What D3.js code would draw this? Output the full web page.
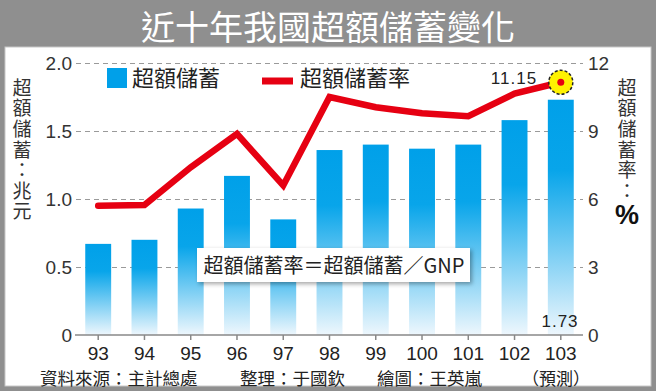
<!DOCTYPE html>
<html>
<head>
<meta charset="utf-8">
<script src="https://cdn.jsdelivr.net/npm/d3@7/dist/d3.min.js"></script>
<style>
  html, body { margin: 0; padding: 0; background: #fff; }
  svg { display: block; }
</style>
</head>
<body>
<svg id="chart" width="656" height="391"></svg>
<script>
// ---- data ----
const years = ["93", "94", "95", "96", "97", "98", "99", "100", "101", "102", "103"];
const savings = [0.67, 0.70, 0.93, 1.17, 0.85, 1.36, 1.40, 1.37, 1.40, 1.58, 1.73];   // 兆元
const rate = [5.70, 5.73, 7.40, 8.87, 6.60, 10.50, 10.05, 9.78, 9.65, 10.65, 11.15];  // %
const leftTicks = [0, 0.5, 1.0, 1.5, 2.0];
const rightTicks = [0, 3, 6, 9, 12];
const title = "近十年我國超額儲蓄變化";
const leftLabel = "超額儲蓄：兆元";
const rightLabel = "超額儲蓄率：";
const legendNames = ["超額儲蓄", "超額儲蓄率"];
const formula = "超額儲蓄率＝超額儲蓄／GNP";
const footer = ["資料來源：主計總處", "整理：于國欽", "繪圖：王英嵐"];

const CJK = "'Noto Sans CJK TC', 'Noto Sans CJK SC', sans-serif";
const NUM = "'Liberation Sans', Arial, sans-serif";
const BLUE = "#00a0e9", RED = "#e60012";

const svg = d3.select("#chart");

// frame
svg.append("rect").attr("x", 0).attr("y", 0).attr("width", 656).attr("height", 391).attr("fill", "#8f8f8f");
svg.append("rect").attr("x", 5).attr("y", 47).attr("width", 646).attr("height", 339)
  .attr("fill", "#fff").attr("stroke", "#c8c8c8").attr("stroke-width", 1);

svg.append("text").attr("x", 328).attr("y", 40).attr("text-anchor", "middle")
  .attr("font-family", CJK).attr("font-size", 34).attr("font-weight", 400).attr("fill", "#fff")
  .text(title);

// defs
const defs = svg.append("defs");
const grad = defs.append("linearGradient").attr("id", "barGrad")
  .attr("x1", 0).attr("y1", 0).attr("x2", 0).attr("y2", 1);
grad.append("stop").attr("offset", "0%").attr("stop-color", BLUE);
grad.append("stop").attr("offset", "30%").attr("stop-color", "#08a5ea");
grad.append("stop").attr("offset", "100%").attr("stop-color", "#eef7fd");
const flt = defs.append("filter").attr("id", "shadow").attr("x", "-10%").attr("y", "-30%").attr("width", "130%").attr("height", "180%");
flt.append("feDropShadow").attr("dx", 2).attr("dy", 2).attr("stdDeviation", 2)
  .attr("flood-color", "#000").attr("flood-opacity", 0.35);

// scales
const x = d3.scaleBand().domain(years).range([76, 583]).paddingInner(0.44).paddingOuter(0.2);
const yL = d3.scaleLinear().domain([0, 2]).range([335, 63]);
const yR = d3.scaleLinear().domain([0, 12]).range([335, 63]);

// left axis with gridlines
const gL = svg.append("g").attr("transform", "translate(76,0)")
  .call(d3.axisLeft(yL).tickValues(leftTicks).tickSize(-507).tickPadding(4)
    .tickFormat(d => d === 0 ? "0" : d3.format(".1f")(d)));
gL.select(".domain").remove();
gL.selectAll(".tick line").attr("stroke", "#9a9a9a").attr("stroke-dasharray", "5,4")
  .attr("stroke-width", 1).filter(d => d === 0).remove();
gL.selectAll(".tick text").attr("font-family", NUM).attr("font-size", 19).attr("fill", "#333");

// right axis
const gR = svg.append("g").attr("transform", "translate(583,0)")
  .call(d3.axisRight(yR).tickValues(rightTicks).tickSize(0).tickPadding(5));
gR.select(".domain").remove();
gR.selectAll(".tick text").attr("font-family", NUM).attr("font-size", 19).attr("fill", "#333");

// bars
svg.append("g").selectAll("rect").data(years).join("rect")
  .attr("x", d => x(d)).attr("width", x.bandwidth())
  .attr("y", (d, i) => yL(savings[i])).attr("height", (d, i) => yL(0) - yL(savings[i]))
  .attr("fill", "url(#barGrad)");

// bottom axis
const gB = svg.append("g").attr("transform", "translate(0,335)")
  .call(d3.axisBottom(x).tickSize(5).tickPadding(7));
gB.select(".domain").remove();
gB.append("line").attr("x1", 75).attr("x2", 583).attr("stroke", "#888").attr("stroke-width", 1.5);
gB.selectAll(".tick line").attr("stroke", "#888").attr("stroke-width", 1.5);
gB.selectAll(".tick text").attr("font-family", NUM).attr("font-size", 19).attr("fill", "#222");

// formula box
svg.append("rect").attr("x", 197).attr("y", 248).attr("width", 273).attr("height", 34)
  .attr("fill", "#fff").attr("filter", "url(#shadow)");
svg.append("text").attr("x", 334).attr("y", 273).attr("text-anchor", "middle")
  .attr("font-family", CJK).attr("font-size", 20).attr("fill", "#222").text(formula);

// rate line
const cx = d => x(d) + x.bandwidth() / 2;
const line = d3.line().x((d, i) => cx(years[i])).y(d => yR(d));
svg.append("path").datum(rate).attr("d", line)
  .attr("fill", "none").attr("stroke", RED).attr("stroke-width", 6.5)
  .attr("stroke-linejoin", "miter").attr("stroke-linecap", "round");

// highlight last point
const last = years.length - 1;
svg.append("circle").attr("cx", cx(years[last])).attr("cy", yR(rate[last])).attr("r", 12)
  .attr("fill", "#fff200").attr("stroke", "#222").attr("stroke-width", 1.5).attr("stroke-dasharray", "3,2");
svg.append("circle").attr("cx", cx(years[last])).attr("cy", yR(rate[last])).attr("r", 3.5).attr("fill", RED);
svg.append("text").attr("x", 514).attr("y", 84).attr("text-anchor", "middle")
  .attr("font-family", NUM).attr("font-size", 17).attr("letter-spacing", 1).attr("fill", "#222")
  .text(d3.format(".2f")(rate[last]));
svg.append("text").attr("x", 560).attr("y", 327).attr("text-anchor", "middle")
  .attr("font-family", NUM).attr("font-size", 17).attr("letter-spacing", 1).attr("fill", "#222")
  .text(d3.format(".2f")(savings[last]));

// legend
svg.append("rect").attr("x", 107).attr("y", 68).attr("width", 20).attr("height", 20).attr("fill", BLUE);
svg.append("text").attr("x", 132).attr("y", 86).attr("font-family", CJK).attr("font-size", 22)
  .attr("fill", "#222").text(legendNames[0]);
svg.append("line").attr("x1", 262).attr("x2", 293).attr("y1", 81).attr("y2", 81)
  .attr("stroke", RED).attr("stroke-width", 7);
svg.append("text").attr("x", 300).attr("y", 86).attr("font-family", CJK).attr("font-size", 22)
  .attr("fill", "#222").text(legendNames[1]);

// vertical axis titles
svg.append("text").attr("x", 22).attr("y", 78)
  .attr("writing-mode", "vertical-rl").style("text-orientation", "upright")
  .attr("letter-spacing", 1.6)
  .attr("font-family", CJK).attr("font-size", 19).attr("fill", "#333").text(leftLabel);
svg.append("text").attr("x", 627).attr("y", 78)
  .attr("writing-mode", "vertical-rl").style("text-orientation", "upright")
  .attr("letter-spacing", 1.6)
  .attr("font-family", CJK).attr("font-size", 19).attr("fill", "#333").text(rightLabel);
svg.append("text").attr("x", 627).attr("y", 224).attr("text-anchor", "middle")
  .attr("font-family", NUM).attr("font-size", 27).attr("font-weight", "bold").attr("fill", "#111").text("%");

// footer
const footX = [40, 240, 377];
svg.append("g").selectAll("text").data(footer).join("text")
  .attr("x", (d, i) => footX[i]).attr("y", 385)
  .attr("font-family", CJK).attr("font-size", 17.5).attr("fill", "#222").text(d => d);
svg.append("text").attr("x", 556).attr("y", 385).attr("text-anchor", "middle")
  .attr("font-family", CJK).attr("font-size", 17).attr("fill", "#222").text("（預測）");
</script>
</body>
</html>
